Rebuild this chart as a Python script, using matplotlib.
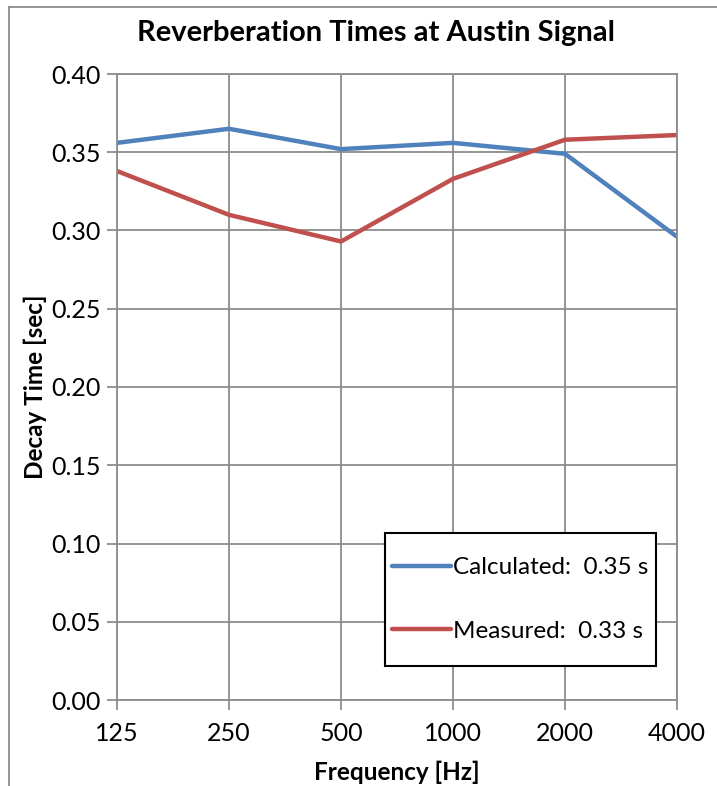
import matplotlib.pyplot as plt
from matplotlib.lines import Line2D
from matplotlib.patches import Rectangle

freqs = ['125', '250', '500', '1000', '2000', '4000']
calculated = [0.356, 0.365, 0.352, 0.356, 0.349, 0.296]
measured = [0.338, 0.310, 0.293, 0.333, 0.358, 0.361]
calc_label = 'Calculated:  0.35 s'
meas_label = 'Measured:  0.33 s'

plt.rcParams['font.family'] = ['Lato', 'DejaVu Sans']
grid_col = '#8c8c8c'

fig = plt.figure(figsize=(7.17, 7.86), dpi=100)
ax = fig.add_axes([117/717, 86/786, 560/717, 626/786])

x = range(len(freqs))
ax.plot(x, calculated, color='#4F81BD', lw=3.2, label=calc_label, solid_capstyle='round')
ax.plot(x, measured, color='#C0504D', lw=3.2, label=meas_label, solid_capstyle='round')

ax.set_xlim(0, len(freqs) - 1)
ax.set_ylim(0, 0.40)
ax.set_xticks(list(x))
ax.set_xticklabels(freqs)
ax.set_yticks([i * 0.05 for i in range(9)])
ax.set_yticklabels([f'{i * 0.05:.2f}' for i in range(9)])
ax.grid(True, color=grid_col, lw=1.3)
ax.set_axisbelow(True)
for s in ax.spines.values():
    s.set_color(grid_col)
    s.set_linewidth(1.3)
ax.tick_params(axis='both', colors=grid_col, labelcolor='black', labelsize=18, length=7, width=1.3)
ax.tick_params(axis='x', pad=9)
ax.tick_params(axis='y', pad=5)

# title is centred on the chart area, not the plot area
fig.text(376/717, 1 - 33/786, 'Reverberation Times at Austin Signal', fontsize=21,
         fontweight='bold', ha='center', va='center')
ax.set_xlabel('Frequency [Hz]', fontsize=17.5, fontweight='bold', labelpad=11)
ax.set_ylabel('Decay Time [sec]', fontsize=17.5, fontweight='bold')
ax.yaxis.set_label_coords(-0.125, 0.5)

# legend box drawn separately so the padding matches
ax.add_patch(Rectangle((0.4786, 0.0543), 0.4839, 0.2125, transform=ax.transAxes,
                       facecolor='white', edgecolor='black', lw=1.5, zorder=4))
leg = ax.legend(loc='center', bbox_to_anchor=(0.7205, 0.1605), fontsize=17.5,
                frameon=False, handlelength=2.4, handletextpad=0.1,
                labelspacing=1.75, borderpad=0)
leg.set_zorder(5)

# outer chart frame (left and top edges visible)
fig.add_artist(Line2D([9/717, 9/717], [0, 1 - 7/786], color=grid_col, lw=1.3))
fig.add_artist(Line2D([9/717, 1], [1 - 7/786, 1 - 7/786], color=grid_col, lw=1.3))

fig.savefig('out.png', dpi=100)
